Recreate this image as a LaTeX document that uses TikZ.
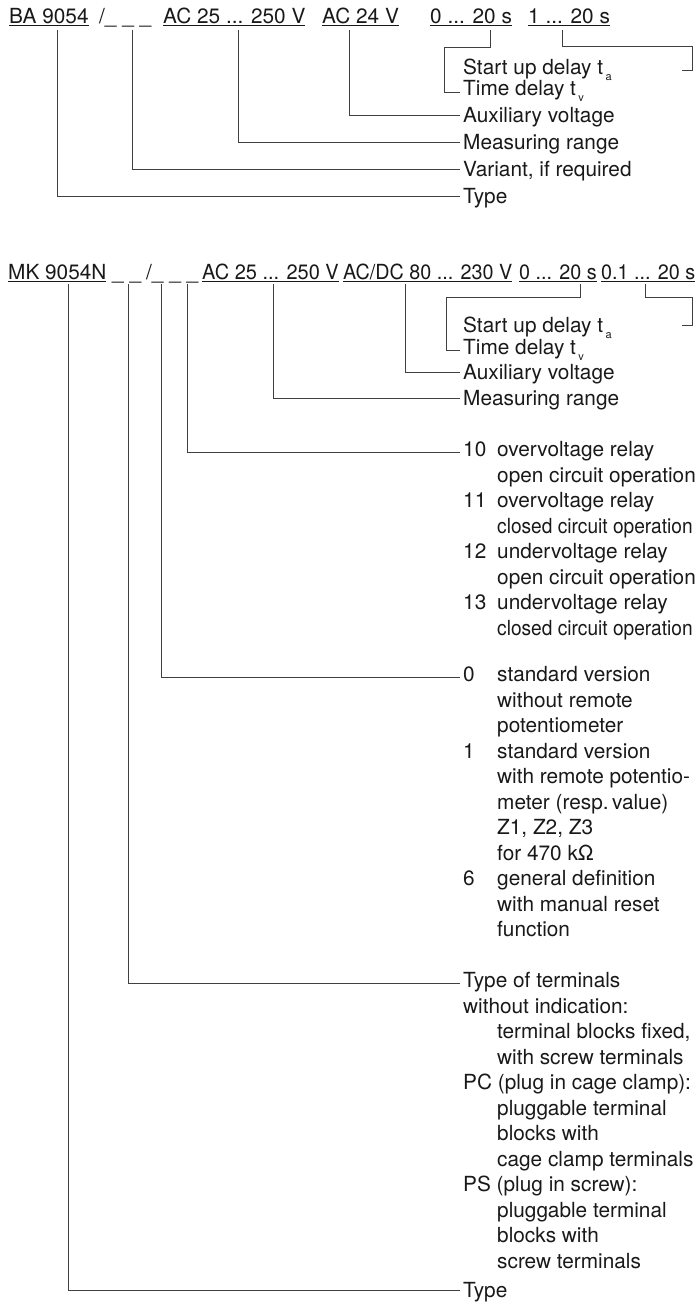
\documentclass[tikz,border=0pt]{standalone}
\usepackage{fontspec}
\setmainfont{TeX Gyre Heros}
\usepackage{graphicx}
\newcommand{\squeeze}[2]{\scalebox{#1}[1]{\underline{#2}}}
\newcommand{\tsub}[1]{\hspace{2.5pt}\raisebox{-6pt}{\fontsize{11}{11}\selectfont #1}}
\newcommand{\numcol}[1]{\makebox[34pt][l]{#1}}
\newcommand{\contcol}{\hspace*{34pt}}

\begin{document}
\begin{tikzpicture}[
  x=1pt, y=-1pt, font=\fontsize{20.8}{25.5}\selectfont, text=black!90,
  hdr/.style={anchor=base west, inner sep=0pt},
  lbl/.style={anchor=north west, yshift=17.85pt, inner xsep=3pt, inner ysep=0pt, align=left, execute at begin node=\strut},
  lead/.style={draw=black!75, line width=0.9pt}
]
\useasboundingbox (0,0) rectangle (695,1310);

% BA 9054 type code
\node[hdr] (ba) at (9,23) {\underline{BA 9054}};
\node[hdr] (var1) at (99,23) {/\_ \_ \_};
\node[hdr] (meas1) at (163,23) {\underline{AC 25 ... 250 V}};
\node[hdr] (aux1) at (322,23) {\underline{AC 24 V}};
\node[hdr] (td1) at (430,23) {\underline{0 ... 20 s}};
\node[hdr] (su1) at (528,23) {\underline{1 ... 20 s}};

\node[lbl] (lsu1) at (460,74) {Start up delay t\tsub{a}};
\node[lbl] (ltime1) at (460,95) {Time delay t\tsub{v}};
\node[lbl] (laux1) at (460,122) {Auxiliary voltage};
\node[lbl] (lmeas1) at (460,149) {Measuring range};
\node[lbl] (lvar1) at (460,176) {Variant, if required};
\node[lbl] (ltype1) at (460,203) {Type};
\coordinate (sa1) at (682,70);

\draw[lead] ([shift={(34,7)}]su1.base west) -- ++(0,16) -| ([xshift=10pt]sa1) -- (sa1);
\draw[lead] ([shift={(60,7)}]td1.base west) -- ++(0,17) -| ([xshift=-16pt,yshift=-15pt]ltime1.north west) -- ([yshift=-15pt]ltime1.north west);
\draw[lead] ([shift={(27,7)}]aux1.base west) |- ([yshift=-11pt]laux1.north west);
\draw[lead] ([shift={(75,7)}]meas1.base west) |- ([yshift=-11pt]lmeas1.north west);
\draw[lead] ([shift={(33,7)}]var1.base west) |- ([yshift=-11pt]lvar1.north west);
\draw[lead] ([shift={(48,7)}]ba.base west) |- ([yshift=-11pt]ltype1.north west);

% MK 9054N type code
\node[hdr] (mk) at (8,279) {\underline{MK 9054N}};
\node[hdr] (us1) at (112,279) {\_ \_};
\node[hdr] (us2) at (146,279) {/\_ \_ \_};
\node[hdr] (meas2) at (202,279) {\squeeze{0.96}{AC 25 ... 250 V}};
\node[hdr] (aux2) at (343,279) {\squeeze{0.95}{AC/DC 80 ... 230 V}};
\node[hdr] (td2) at (519,279) {\squeeze{0.95}{0 ... 20 s}};
\node[hdr] (su2) at (601,279) {\squeeze{0.95}{0.1 ... 20 s}};

\node[lbl] (lsu2) at (460,332) {Start up delay t\tsub{a}};
\node[lbl] (ltime2) at (460,354) {Time delay t\tsub{v}};
\node[lbl] (laux2) at (460,379) {Auxiliary voltage};
\node[lbl] (lmeas2) at (460,405) {Measuring range};
\node[lbl] (lrel) at (460,459) {\numcol{10}overvoltage relay\\
  \contcol open circuit operation\\
  \numcol{11}overvoltage relay\\
  \contcol\scalebox{0.92}[1]{closed circuit operation}\\
  \numcol{12}undervoltage relay\\
  \contcol open circuit operation\\
  \numcol{13}undervoltage relay\\
  \contcol\scalebox{0.92}[1]{closed circuit operation}};
\node[lbl] (lver) at (460,684) {\numcol{0}standard version\\
  \contcol without remote\\
  \contcol potentiometer\\
  \numcol{1}standard version\\
  \contcol with remote potentio-\\
  \contcol meter (resp.\,value)\\
  \contcol Z1, Z2, Z3\\
  \contcol for 470 kΩ\\
  \numcol{6}general definition\\
  \contcol with manual reset\\
  \contcol function};
\node[lbl] (lterm) at (460,990) {Type of terminals\\
  without indication:\\
  \contcol terminal blocks fixed,\\
  \contcol with screw terminals\\
  PC (plug in cage clamp):\\
  \contcol pluggable terminal\\
  \contcol blocks with\\
  \contcol cage clamp terminals\\
  PS (plug in screw):\\
  \contcol pluggable terminal\\
  \contcol blocks with\\
  \contcol screw terminals};
\node[lbl] (ltype2) at (460,1297) {Type};
\coordinate (sa2) at (682,325);

\draw[lead] ([shift={(44,5)}]su2.base west) -- ++(0,13) -| ([xshift=10pt]sa2) -- (sa2);
\draw[lead] ([shift={(61,5)}]td2.base west) -- ++(0,13) -| ([xshift=-14pt,yshift=-14pt]ltime2.north west) -- ([yshift=-14pt]ltime2.north west);
\draw[lead] ([shift={(62,5)}]aux2.base west) |- ([yshift=-11pt]laux2.north west);
\draw[lead] ([shift={(71,5)}]meas2.base west) |- ([yshift=-11pt]lmeas2.north west);
\draw[lead] ([shift={(41,5)}]us2.base west) |- ([yshift=-11pt]lrel.north west);
\draw[lead] ([shift={(15,5)}]us2.base west) |- ([yshift=-11pt]lver.north west);
\draw[lead] ([shift={(16,5)}]us1.base west) |- ([yshift=-11pt]lterm.north west);
\draw[lead] ([shift={(60,5)}]mk.base west) |- ([yshift=-11pt]ltype2.north west);
\end{tikzpicture}
\end{document}
